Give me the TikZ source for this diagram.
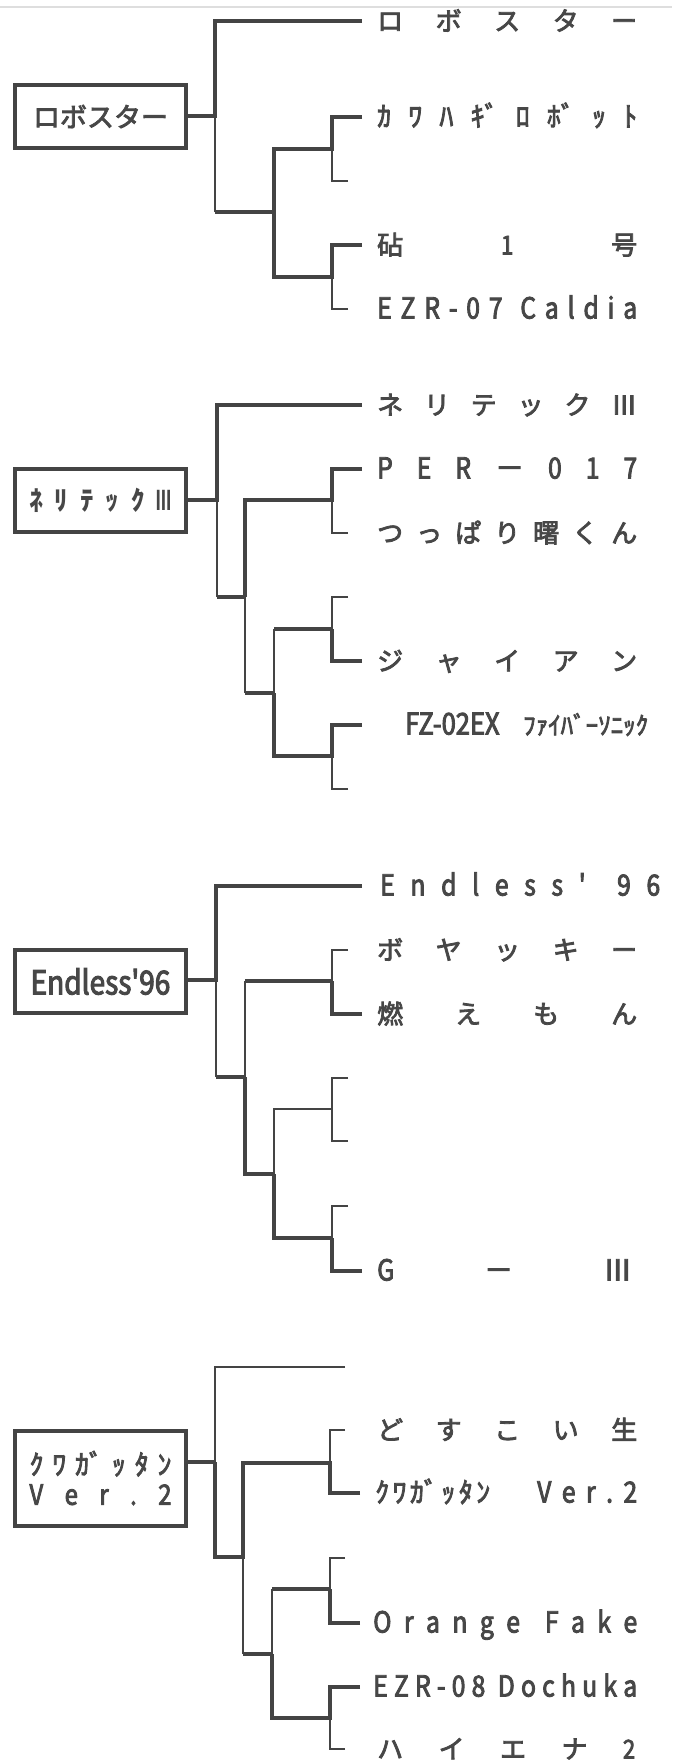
\documentclass[tikz,border=0pt]{standalone}
\usepackage{graphicx}
\usepackage{fontspec}
\setmainfont{Noto Sans CJK JP}
\newfontfamily\jf{Noto Sans CJK JP}[FakeBold=3]
\newfontfamily\lf{Noto Sans CJK JP}[FakeBold=3,FakeStretch=0.85]
\definecolor{ink}{HTML}{444444}
\definecolor{txt}{HTML}{474747}
\newcommand\spr[2]{\makebox[#1][l]{#2}}
\begin{document}
\begin{tikzpicture}[x=1pt,y=-1pt,
  win/.style={draw=ink,line width=4pt},
  lose/.style={draw=ink,line width=1.7pt},
  box/.style={draw=ink,line width=4pt,inner sep=0pt,minimum width=171pt,text=txt},
  lbl/.style={anchor=west,inner sep=0pt,text=txt,font=\jf\fontsize{26}{26}\selectfont,text height=21pt,text depth=2pt},
  latin/.style={font=\lf\fontsize{29}{29}\selectfont},
  half/.style={font=\jf\fontsize{28}{28}\selectfont}
]
\fill[white] (0,0) rectangle (672,1764);
\useasboundingbox (0,0) rectangle (672,1764);
\draw[black!13,line width=1.5pt] (0,7) -- (672,7);

% ---------------- group 1
\node[box,minimum height=63pt,font=\jf\fontsize{27}{27}\selectfont] (b1) at (100.5,116.5) {ロボスター};
\coordinate (e11) at (362,21);
\coordinate (e12) at (362,117);
\coordinate (e13) at (348,181);
\coordinate (e14) at (362,245);
\coordinate (e15) at (348,309);
\coordinate (m11) at (332,149);
\coordinate (m12) at (332,277);
\coordinate (m13) at (274,212);
\coordinate (f1) at (215,116);
\draw[win] (e11) -| (f1) -- (f1 -| b1.east);
\draw[win] (m13) -- (m13 -| f1);
\draw[lose] (m13 -| f1) -- (f1);
\draw[win] (e12) -| (m11) -| (m13);
\draw[lose] (e13) -| (m11);
\draw[win] (e14) -| (m12) -| (m13);
\draw[lose] (e15) -| (m12);
\node[lbl] (l11) at (377,21) {\spr{260pt}{ロ\hfill ボ\hfill ス\hfill タ\hfill ー}};
\node[lbl,half] (l12) at (377,117) {\spr{260pt}{ｶ\hfill ﾜ\hfill ﾊ\hfill ｷﾞ\hfill ﾛ\hfill ﾎﾞ\hfill ｯ\hfill ﾄ}};
\node[lbl] (l14) at (377,245) {\spr{260pt}{砧\hfill {\lf 1}\hfill 号}};
\node[lbl,latin] (l15) at (377,309) {\spr{260pt}{E\hfill Z\hfill R\hfill -\hfill 0\hfill 7\hfill\hfill C\hfill a\hfill l\hfill d\hfill i\hfill a}};

% ---------------- group 2
\node[box,minimum height=63pt,font=\fontsize{27}{27}\selectfont\bfseries] (b2) at (100.5,500.5) {\spr{142pt}{ﾈ\hfill ﾘ\hfill ﾃ\hfill ｯ\hfill ｸ\hfill \scalebox{0.55}[1]{Ⅲ}}};
\coordinate (e21) at (362,405);
\coordinate (e22) at (362,469);
\coordinate (e23) at (348,533);
\coordinate (e24) at (348,597);
\coordinate (e25) at (362,661);
\coordinate (e26) at (362,725);
\coordinate (e27) at (348,789);
\coordinate (m21) at (332,500);
\coordinate (m22) at (332,629);
\coordinate (m23) at (332,756);
\coordinate (m24) at (274,693);
\coordinate (m25) at (245,597);
\coordinate (f2) at (217,500);
\draw[win] (e21) -| (f2) -- (f2 -| b2.east);
\draw[win] (m25) -- (m25 -| f2);
\draw[lose] (m25 -| f2) -- (f2);
\draw[win] (e22) -| (m21) -| (m25);
\draw[lose] (e23) -| (m21);
\draw[win] (m24) -- (m24 -| m25);
\draw[lose] (m24 -| m25) -- (m25);
\draw[win] (m22) -- (m22 -| m24);
\draw[lose] (m22 -| m24) -- (m24);
\draw[lose] (e24) -| (m22);
\draw[win] (e25) -| (m22);
\draw[win] (e26) -| (m23) -| (m24);
\draw[lose] (e27) -| (m23);
\node[lbl] (l21) at (377,405) {\spr{260pt}{ネ\hfill リ\hfill テ\hfill ッ\hfill ク\hfill Ⅲ}};
\node[lbl,latin] (l22) at (377,469) {\spr{260pt}{P\hfill E\hfill R\hfill {\jf －}\hfill 0\hfill 1\hfill 7}};
\node[lbl] (l23) at (377,533) {\spr{260pt}{つ\hfill っ\hfill ぱ\hfill り\hfill 曙\hfill く\hfill ん}};
\node[lbl] (l25) at (377,661) {\spr{260pt}{ジ\hfill ャ\hfill イ\hfill ア\hfill ン}};
\node[lbl] (l26) at (405,725) {\spr{243pt}{{\lf\fontsize{30}{30}\selectfont FZ-02EX}\hfill {\fontsize{25}{25}\selectfont ﾌｧｲﾊﾞｰｿﾆｯｸ}}};

% ---------------- group 3
\node[box,minimum height=63pt,font=\lf\fontsize{33}{33}\selectfont] (b3) at (100.5,981.5) {Endless'96};
\coordinate (e31) at (362,886);
\coordinate (e32) at (348,950);
\coordinate (e33) at (362,1014);
\coordinate (e34) at (348,1078);
\coordinate (e35) at (348,1141);
\coordinate (e36) at (348,1206);
\coordinate (e37) at (362,1271);
\coordinate (m31) at (332,981);
\coordinate (m32) at (332,1109);
\coordinate (m33) at (332,1238);
\coordinate (m34) at (274,1174);
\coordinate (m35) at (245,1077);
\coordinate (f3) at (216,980);
\draw[win] (e31) -| (f3) -- (f3 -| b3.east);
\draw[win] (m35) -- (m35 -| f3);
\draw[lose] (m35 -| f3) -- (f3);
\draw[win] (m31) -- (m31 -| m35);
\draw[lose] (m31 -| m35) -- (m35);
\draw[lose] (e32) -| (m31);
\draw[win] (e33) -| (m31);
\draw[win] (m34) -| (m35);
\draw[lose] (m32) -| (m34);
\draw[lose] (e34) -| (m32);
\draw[lose] (e35) -| (m32);
\draw[win] (m33) -| (m34);
\draw[lose] (e36) -| (m33);
\draw[win] (e37) -| (m33);
\node[lbl,latin] (l31) at (380,886) {\spr{280pt}{E\hfill n\hfill d\hfill l\hfill e\hfill s\hfill s\hfill '\hfill\hfill 9\hfill 6}};
\node[lbl] (l32) at (377,950) {\spr{260pt}{ボ\hfill ヤ\hfill ッ\hfill キ\hfill ー}};
\node[lbl] (l33) at (377,1014) {\spr{260pt}{燃\hfill え\hfill も\hfill ん}};
\node[lbl,latin] (l37) at (377,1271) {\spr{255pt}{G\hfill {\jf －}\hfill {\jf Ⅲ}}};

% ---------------- group 4
\node[box,minimum height=95pt,align=center,font=\jf\fontsize{28}{30}\selectfont] (b4) at (100.5,1478) {\spr{142pt}{ｸ\hfill ﾜ\hfill ｶﾞ\hfill ｯ\hfill ﾀ\hfill ﾝ}\\{\lf\spr{142pt}{V\hfill e\hfill r\hfill .\hfill 2}}};
\coordinate (e41) at (345,1367);
\coordinate (e42) at (345,1430);
\coordinate (e43) at (360,1493);
\coordinate (e44) at (345,1558);
\coordinate (e45) at (360,1623);
\coordinate (e46) at (360,1687);
\coordinate (e47) at (345,1749);
\coordinate (m41) at (330,1463);
\coordinate (m42) at (330,1589);
\coordinate (m43) at (330,1718);
\coordinate (m44) at (272,1654);
\coordinate (m45) at (243,1557);
\coordinate (f4) at (215,1462);
\draw[lose] (e41) -| (f4);
\draw[win] (f4) -- (f4 -| b4.east);
\draw[win] (e43) -| (m41) -| (m45) -| (f4);
\draw[lose] (e42) -| (m41);
\draw[win] (m44) -- (m44 -| m45);
\draw[lose] (m44 -| m45) -- (m45);
\draw[win] (m42) -- (m42 -| m44);
\draw[lose] (m42 -| m44) -- (m44);
\draw[lose] (e44) -| (m42);
\draw[win] (e45) -| (m42);
\draw[win] (e46) -| (m43) -| (m44);
\draw[lose] (e47) -| (m43);
\node[lbl] (l42) at (377,1430) {\spr{260pt}{ど\hfill す\hfill こ\hfill い\hfill 生}};
\node[lbl,half] (l43) at (375,1493) {\spr{115pt}{ｸ\hfill ﾜ\hfill ｶﾞ\hfill ｯ\hfill ﾀ\hfill ﾝ}\hspace{47pt}{\lf\fontsize{29}{29}\selectfont\spr{100pt}{V\hfill e\hfill r\hfill .\hfill 2}}};
\node[lbl,latin] (l45) at (373,1623) {\spr{264pt}{O\hfill r\hfill a\hfill n\hfill g\hfill e\hfill\hfill F\hfill a\hfill k\hfill e}};
\node[lbl,latin] (l46) at (373,1687) {\spr{264pt}{E\hfill Z\hfill R\hfill -\hfill 0\hfill 8\hfill\hfill D\hfill o\hfill c\hfill h\hfill u\hfill k\hfill a}};
\node[lbl] (l47) at (377,1749) {\spr{258pt}{ハ\hfill イ\hfill エ\hfill ナ\hfill {\lf 2}}};
\end{tikzpicture}
\end{document}
